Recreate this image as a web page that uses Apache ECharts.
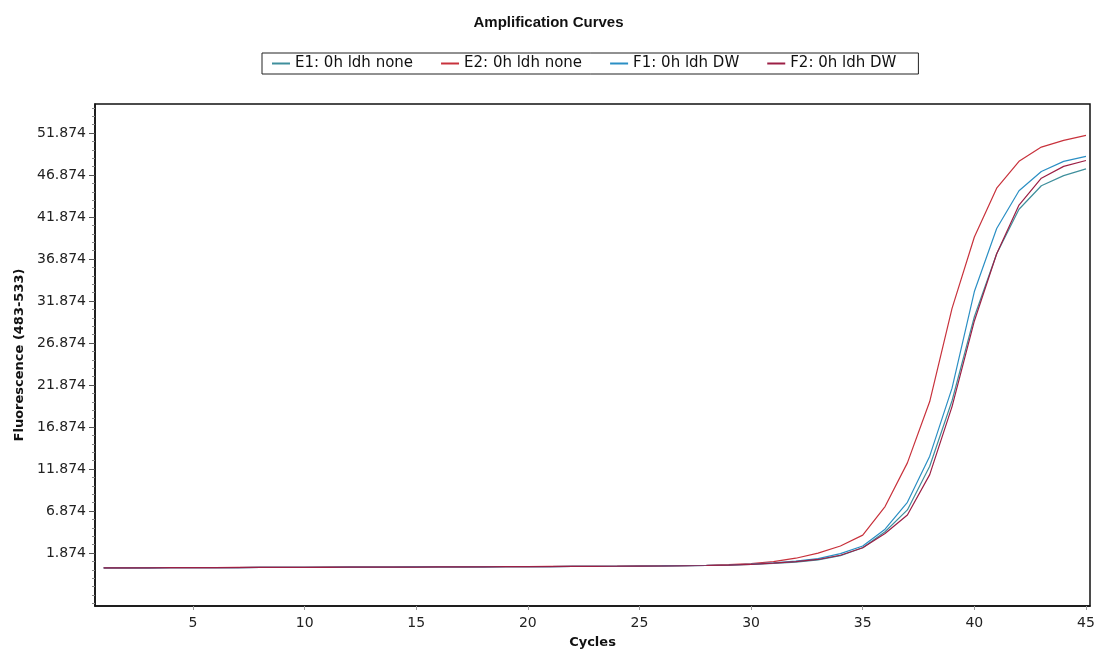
<!DOCTYPE html>
<html>
<head>
<meta charset="utf-8">
<script src="https://cdn.jsdelivr.net/npm/echarts@6/dist/echarts.min.js"></script>
<style>
html,body{margin:0;padding:0;background:#fff;}
#chart{width:1097px;height:651px;}
</style>
</head>
<body>
<div id="chart"></div>
<script>
var cycles = [1,2,3,4,5,6,7,8,9,10,11,12,13,14,15,16,17,18,19,20,21,22,23,24,25,26,27,28,29,30,31,32,33,34,35,36,37,38,39,40,41,42,43,44,45];

var seriesNames = ['E1: 0h ldh none', 'E2: 0h ldh none', 'F1: 0h ldh DW', 'F2: 0h ldh DW'];
var seriesColors = ['#3f8f9c', '#c8323c', '#2b8fc4', '#9c1f45'];

var e1 = [0.10,0.11,0.11,0.12,0.13,0.14,0.14,0.15,0.16,0.17,
          0.18,0.18,0.19,0.20,0.21,0.22,0.22,0.23,0.24,0.25,
          0.26,0.27,0.28,0.29,0.31,0.33,0.35,0.38,0.42,0.50,
          0.62,0.78,1.05,1.55,2.5,4.4,7.0,12.2,20.0,30.0,
          37.5,42.8,45.6,46.8,47.6];
var e2 = [0.10,0.11,0.12,0.12,0.13,0.14,0.15,0.15,0.16,0.17,
          0.18,0.19,0.19,0.20,0.21,0.22,0.23,0.24,0.25,0.26,
          0.27,0.28,0.29,0.30,0.32,0.34,0.37,0.41,0.48,0.62,
          0.85,1.25,1.85,2.7,4.0,7.4,12.6,19.9,31.0,39.5,
          45.3,48.5,50.2,51.0,51.6];
var f1 = [0.10,0.10,0.11,0.12,0.13,0.13,0.14,0.15,0.16,0.17,
          0.17,0.18,0.19,0.20,0.21,0.21,0.22,0.23,0.24,0.25,
          0.26,0.27,0.28,0.29,0.31,0.33,0.36,0.39,0.44,0.55,
          0.70,0.90,1.20,1.8,2.7,4.7,7.9,13.4,21.5,33.0,
          40.5,45.0,47.3,48.5,49.1];
var f2 = [0.09,0.10,0.11,0.12,0.12,0.13,0.14,0.15,0.15,0.16,
          0.17,0.18,0.19,0.19,0.20,0.21,0.22,0.23,0.24,0.25,
          0.26,0.27,0.28,0.29,0.30,0.32,0.35,0.38,0.43,0.52,
          0.66,0.85,1.10,1.6,2.5,4.2,6.4,11.2,19.3,29.5,
          37.5,43.3,46.5,47.9,48.6];

var yTickLabels = ['1.874','6.874','11.874','16.874','21.874','26.874','31.874','36.874','41.874','46.874','51.874'];
var xTickLabels = ['5','10','15','20','25','30','35','40','45'];

var yMin = -4.44, yMax = 55.33;
var xMin = 0.61, xMax = 45.18;

var yMajor = yTickLabels.map(Number);
var yMinor = [];
for (var v = -4.126; v <= 55.0; v += 1) {
  var r = Math.round(v * 1000) / 1000;
  if (yMajor.indexOf(r) < 0) yMinor.push(r);
}
var xMajor = xTickLabels.map(Number);

var allData = [e1, e2, f1, f2];
var font = 'Liberation Sans, Arial, sans-serif';
var wide = 'DejaVu Sans, sans-serif';

var chart = echarts.init(document.getElementById('chart'), null, {renderer: 'canvas'});
chart.setOption({
  backgroundColor: '#ffffff',
  animation: false,
  title: {
    text: 'Amplification Curves',
    left: 'center',
    top: 10,
    textStyle: {fontFamily: font, fontSize: 15, fontWeight: 900, color: '#111'}
  },
  legend: {
    data: seriesNames,
    top: 53,
    left: 262,
    icon: 'rect',
    itemWidth: 18,
    itemHeight: 2,
    itemGap: 28,
    padding: [3, 22, 3, 10],
    borderColor: '#222',
    borderWidth: 1,
    textStyle: {fontFamily: wide, fontSize: 15, color: '#111'}
  },
  grid: {
    left: 95, right: 7, top: 104, bottom: 45,
    outerBoundsMode: 'none',
    containLabel: false,
    show: true, borderColor: '#111', borderWidth: 1.5, backgroundColor: '#fff'
  },
  xAxis: {
    type: 'value',
    min: xMin, max: xMax,
    name: 'Cycles',
    nameLocation: 'middle',
    nameGap: 30,
    nameTextStyle: {fontFamily: wide, fontSize: 13, fontWeight: 'bold', color: '#111'},
    axisLine: {show: true, onZero: false, lineStyle: {color: '#111', width: 1.5}},
    axisTick: {show: true, customValues: xMajor, length: 4, lineStyle: {color: '#999'}},
    axisLabel: {customValues: xMajor, margin: 10, fontFamily: wide, fontSize: 14, color: '#222',
      formatter: function (val) { return String(Math.round(val)); }},
    splitLine: {show: false}
  },
  yAxis: [{
    type: 'value',
    min: yMin, max: yMax,
    name: 'Fluorescence (483-533)',
    nameLocation: 'middle',
    nameGap: 69,
    nameTextStyle: {fontFamily: wide, fontSize: 13, fontWeight: 'bold', color: '#111'},
    axisLine: {show: true, onZero: false, lineStyle: {color: '#111', width: 1.5}},
    axisTick: {show: true, customValues: yMajor, length: 6, lineStyle: {color: '#555'}},
    axisLabel: {customValues: yMajor, margin: 9, fontFamily: wide, fontSize: 14, color: '#222',
      formatter: function (val) { return val.toFixed(3); }},
    splitLine: {show: false}
  }, {
    type: 'value',
    position: 'left',
    min: yMin, max: yMax,
    axisLine: {show: false},
    axisTick: {show: true, customValues: yMinor, length: 3, lineStyle: {color: '#888'}},
    axisLabel: {show: false},
    splitLine: {show: false}
  }],
  series: seriesNames.map(function (name, i) {
    return {
      name: name,
      type: 'line',
      yAxisIndex: 0,
      showSymbol: false,
      symbol: 'none',
      color: seriesColors[i],
      lineStyle: {width: 1.2, color: seriesColors[i]},
      data: cycles.map(function (c, k) { return [c, allData[i][k]]; })
    };
  })
});
</script>
</body>
</html>
